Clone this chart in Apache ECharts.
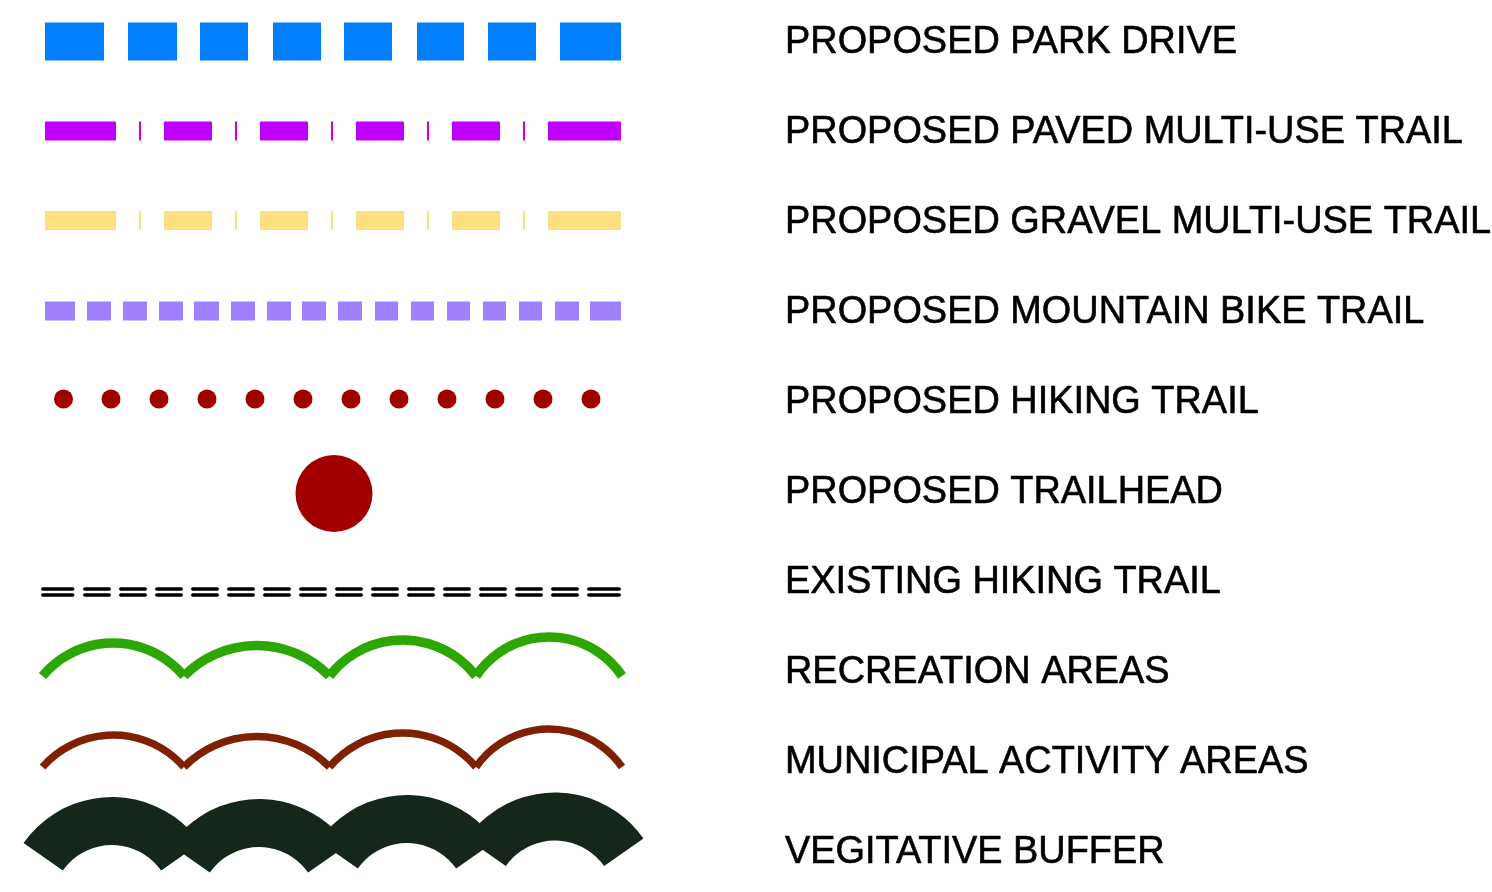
<!DOCTYPE html>
<html>
<head>
<meta charset="utf-8">
<script src="https://cdn.jsdelivr.net/npm/echarts@6/dist/echarts.min.js"></script>
<style>html,body{margin:0;padding:0;background:#fff;}#main{width:1492px;height:892px;}</style>
</head>
<body>
<div id="main"></div>
<script>
// ---------- legend entries (category labels) ----------
const labels = [
  'PROPOSED PARK DRIVE',
  'PROPOSED PAVED MULTI-USE TRAIL',
  'PROPOSED GRAVEL MULTI-USE TRAIL',
  'PROPOSED MOUNTAIN BIKE TRAIL',
  'PROPOSED HIKING TRAIL',
  'PROPOSED TRAILHEAD',
  'EXISTING HIKING TRAIL',
  'RECREATION AREAS',
  'MUNICIPAL ACTIVITY AREAS',
  'VEGITATIVE BUFFER'
];

// ---------- sample line geometry, in legend units along x / down y ----------
const parkDriveDashes = [[45,104],[128,177],[200,248],[273,321],[344,392],[417,464],[488,536],[560,621]];
const parkDriveRow = 41.5;

const pavedDashes = [[45,116],[164,212],[260,308],[356,404],[452,500],[548,621]];
const pavedTicks = [140,236,332,428,524];
const pavedRow = 131;

const gravelDashes = [[45,116],[164,212],[260,308],[356,404],[452,500],[548,621]];
const gravelTicks = [140,236,332,428,524];
const gravelRow = 220.5;

const bikeDashes = [[45,75],[87,111],[123,147],[159,183],[194,219],[231,255],[267,291],[302,326],
                    [338,362],[375,398],[411,434],[447,470],[483,506],[519,542],[555,579],[590,621]];
const bikeRow = 311;

const hikingDots = [63.5,111,159,207,255,303,351,399,447,495,543,591];
const hikingRow = 399;

const trailheadPoint = [334, 493.5];

const existingDashes = [[41,74.5],[83,111],[119,147],[155,183],[191,219],[227,255],[263,291],[299,327],
                        [335,363],[371,399],[407,435],[443,471],[479,507],[515,543],[551,579],[587,621]];
const existingRows = [589, 595];

const arcJoints = [42.5,184,329.5,476,622];
const recreationEnd = 676;
const recreationTops = [643,645.5,640,637];
const municipalEnd = 767;
const municipalTops = [735,736.5,733,729];

const bufferCenters = [112,259,407,555];
const bufferTops = [797,799,795,792.5];

// ---------- styles ----------
const C = {
  park: '#0080FF', paved: '#BF00FF', gravel: '#FFDF80', bike: '#A080FF',
  hiking: '#A00000', existing: '#000000', recreation: '#2CA600',
  municipal: '#7F2000', buffer: '#15271A'
};

function rectSeries(spans, row, h, color) {
  return {
    type: 'custom', xAxisIndex: 1, yAxisIndex: 1, silent: true,
    data: spans.map(s => [s[0], s[1], row]),
    encode: { x: [0, 1], y: 2 },
    renderItem: function (params, api) {
      const p0 = api.coord([api.value(0), api.value(2)]);
      const p1 = api.coord([api.value(1), api.value(2)]);
      return { type: 'rect', shape: { x: p0[0], y: p0[1] - h / 2, width: p1[0] - p0[0], height: h },
               style: { fill: color } };
    }
  };
}
function tickSeries(ticks, row, h, w, color) {
  return rectSeries(ticks.map(t => [t - w / 2, t + w / 2]), row, h, color);
}
function arcSeries(joints, endY, tops, lw, color) {
  const data = tops.map((t, i) => [joints[i], joints[i + 1], endY, t]);
  return {
    type: 'custom', xAxisIndex: 1, yAxisIndex: 1, silent: true,
    data: data, encode: { x: [0, 1], y: [2, 3] },
    renderItem: function (params, api) {
      const x0 = api.value(0), x1 = api.value(1), ye = api.value(2), yt = api.value(3);
      const pA = api.coord([x0, ye]), pB = api.coord([x1, ye]), pT = api.coord([(x0 + x1) / 2, yt]);
      const c = (pB[0] - pA[0]) / 2, s = pA[1] - pT[1];
      const R = (c * c + s * s) / (2 * s);
      const th = Math.asin(Math.min(1, c / R));
      return { type: 'arc',
        shape: { cx: (pA[0] + pB[0]) / 2, cy: pT[1] + R, r: R,
                 startAngle: -Math.PI / 2 - th, endAngle: -Math.PI / 2 + th, clockwise: true },
        style: { stroke: color, lineWidth: lw, fill: null, lineCap: 'butt' } };
    }
  };
}

const series = [
  rectSeries(parkDriveDashes, parkDriveRow, 38, C.park),
  rectSeries(pavedDashes, pavedRow, 19, C.paved),
  tickSeries(pavedTicks, pavedRow, 19, 2, C.paved),
  rectSeries(gravelDashes, gravelRow, 19, C.gravel),
  tickSeries(gravelTicks, gravelRow, 19, 2, C.gravel),
  rectSeries(bikeDashes, bikeRow, 19, C.bike),
  {
    type: 'scatter', xAxisIndex: 1, yAxisIndex: 1, silent: true,
    data: hikingDots.map(x => [x, hikingRow]), symbol: 'circle', symbolSize: 19,
    itemStyle: { color: C.hiking, opacity: 1 }
  },
  {
    type: 'scatter', xAxisIndex: 1, yAxisIndex: 1, silent: true,
    data: [trailheadPoint], symbol: 'circle', symbolSize: 77,
    itemStyle: { color: '#A20000', opacity: 1 }
  },
  {
    type: 'custom', xAxisIndex: 1, yAxisIndex: 1, silent: true,
    data: existingDashes.map(s => [s[0], s[1], existingRows[0], existingRows[1]]),
    encode: { x: [0, 1], y: [2, 3] },
    renderItem: function (params, api) {
      const lw = 3.6, inset = lw / 2;
      const a0 = api.coord([api.value(0), api.value(2)]), a1 = api.coord([api.value(1), api.value(2)]);
      const b0 = api.coord([api.value(0), api.value(3)]), b1 = api.coord([api.value(1), api.value(3)]);
      const st = { stroke: C.existing, lineWidth: lw, lineCap: 'round' };
      return { type: 'group', children: [
        { type: 'line', shape: { x1: a0[0] + inset, y1: a0[1], x2: a1[0] - inset, y2: a1[1] }, style: st },
        { type: 'line', shape: { x1: b0[0] + inset, y1: b0[1], x2: b1[0] - inset, y2: b1[1] }, style: st }
      ] };
    }
  },
  arcSeries(arcJoints, recreationEnd, recreationTops, 9.5, C.recreation),
  arcSeries(arcJoints, municipalEnd, municipalTops, 7.5, C.municipal),
  {
    type: 'custom', xAxisIndex: 1, yAxisIndex: 1, silent: true,
    data: bufferCenters.map((x, i) => [x, bufferTops[i]]),
    encode: { x: 0, y: 1 },
    renderItem: function (params, api) {
      const ro = 108, ri = 60, th = 55 * Math.PI / 180;
      const c = api.coord([api.value(0), api.value(1) + ro]);
      const r = api.size([0, ro])[1], r0 = api.size([0, ri])[1];
      return { type: 'sector',
        shape: { cx: c[0], cy: c[1], r: r, r0: r0,
                 startAngle: -Math.PI / 2 - th, endAngle: -Math.PI / 2 + th, clockwise: true },
        style: { fill: C.buffer } };
    }
  }
];

const chart = echarts.init(document.getElementById('main'), null, { renderer: 'canvas' });
chart.setOption({
  animation: false,
  backgroundColor: '#ffffff',
  grid: [
    { left: 0, top: -2, width: 775, height: 900, outerBoundsMode: 'none', containLabel: false },
    { left: 0, top: 0, width: 775, height: 892, outerBoundsMode: 'none', containLabel: false }
  ],
  xAxis: [
    { type: 'value', gridIndex: 0, show: false, min: 0, max: 1 },
    { type: 'value', gridIndex: 1, show: false, min: 0, max: 775 }
  ],
  yAxis: [
    { type: 'category', gridIndex: 0, data: labels, inverse: true, position: 'right',
      axisLine: { show: false }, axisTick: { show: false }, splitLine: { show: false },
      axisLabel: { align: 'left', margin: 10, fontSize: 37.9, color: '#000000',
                   textBorderColor: '#000000', textBorderWidth: 0.6,
                   fontFamily: '"Liberation Sans", Arial, sans-serif' } },
    { type: 'value', gridIndex: 1, show: false, min: 0, max: 892, inverse: true }
  ],
  series: series
});
</script>
</body>
</html>
